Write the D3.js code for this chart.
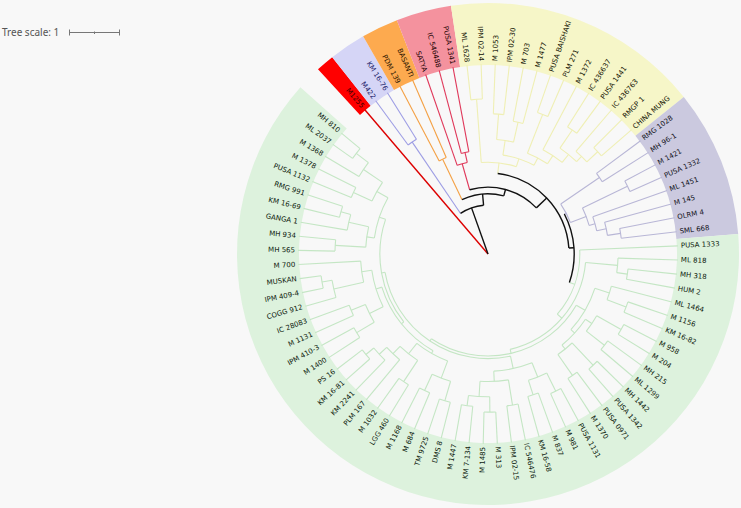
<!DOCTYPE html>
<html><head><meta charset="utf-8">
<script src="https://cdn.jsdelivr.net/npm/d3@7"></script>
<style>html,body{margin:0;padding:0;background:#f8f8f8;} svg{display:block}</style>
</head><body><svg id="c" width="741" height="508"></svg>
<script>
// ---------- data ----------
const leafDepth = 3.725;          // distance root -> leaves (tree units)
const startAngle = -40.5;         // angle of first leaf (deg, clockwise from north)
const spanAngle = 350;            // arc covered by the leaves
const scaleBarUnits = 1;

const cladeNames   = ["red","lavender","orange","pink","yellow","purple","green"];
const rangeColors  = ["#ff0000","#d5d5f6","#fdaa4f","#f4929e","#f6f6c8","#cbc9df","#ddf2dd"];
const branchColors = ["#dd0000","#9d9de4","#f4a043","#e0385a","#efefb4","#b8b6d6","#c4e6c4"];
const labelColors  = ["#3a0000","#1c1c6a","#2a1400","#1a0000","#151505","#101018","#0c200c"];

// backbone node depths: root, A, B, C, D, E
const backboneDepths = [0, 0.96, 1.18, 1.31, 1.59, 1.69];

const treeRed = "M1255";
const treeLavender = "(M422,KM 16-76):2.65";
const treeOrange = "(PDM 139,BASANTI):2.06";
const treePink = "(SATYA,(IC 546488,PUSA 1341):2.04):1.84";
const treeYellow = "((ML 1628,IPM 02-14):3.04,(((M 1053,IPM 02-30):2.75,(M 703,M 1477):2.65):2.25,((PUSA BAISHAKI,PLM 271):2.94,(M 1372,((IC 436637,PUSA 1441):2.94,(IC 436763,(RMGP 1,CHINA MUNG):2.94):2.65):2.51):2.31):2.12):1.96):1.80";
const treePurple = "((RMG 1028,MH 96-1):2.65,((M 1421,PUSA 1332):3.04,(ML 1451,(M 145,(OLRM 4,SML 668):2.63):2.37):2.18):2.06):1.73";

const greenG1 = "(ML 818,(MH 318,HUM 2):2.76):2.55";
const greenG2 = "(ML 1464,(M 1156,KM 16-82):2.9):2.5";
const greenG3 = "((M 958,M 204):3.0,(MH 215,ML 1299):2.9):2.45";
const greenG4 = "((MH 1442,PUSA 1342):3.0,(PUSA 0971,M 1370):2.9):2.4";
const greenG5 = "(((PUSA 1131,M 981):3.0,(M 837,KM 16-58):2.9):2.6,((IC 546476,IPM 02-15):3.0,((M 313,M 1485):3.1,(KM 7-134,M 1447):3.0):2.8):2.5):2.3";
const greenG6 = "(((DMS 8,TM 9725):3.0,(M 684,M 1168):2.95):2.6,((LGG 460,M 1032):3.0,(PLM 167,(KM 2241,(KM 16-81,PS 16):3.1):2.9):2.7):2.5):2.24";
const greenG7 = "(((M 1400,IPM 410-3):3.0,(M 1131,IC 28083):2.9):2.6,((COGG 912,(IPM 409-4,MUSKAN):3.3):3.1,M 700):2.5):2.3";
const greenG8 = "((MH 565,MH 934):3.0,(GANGA 1,(KM 16-69,RMG 991):3.0):2.8):2.4";
const greenG9 = "((PUSA 1132,M 1378):2.9,(M 1368,(ML 2037,MH 810):3.25):2.95):2.5";
const treeGreen = `(PUSA 1333,(${greenG1},((${greenG2},(${greenG3},${greenG4}):2.3):2.2,(${greenG5},((${greenG6},${greenG7}):2.18,(${greenG8},${greenG9}):2.25):2.12):2.05):2.0):1.92):1.80`;

const cladeTrees = [treeRed, treeLavender, treeOrange, treePink, treeYellow, treePurple, treeGreen];

// ---------- parse ----------
function parse(str) {
  let i = 0;
  function node() {
    if (str[i] === "(") {
      i++;
      const children = [node()];
      while (str[i] === ",") { i++; children.push(node()); }
      i++; // ')'
      let d = 0;
      if (str[i] === ":") { i++; let s = ""; while (i < str.length && /[0-9.]/.test(str[i])) s += str[i++]; d = +s; }
      return {children, depth: d};
    }
    let s = "";
    while (i < str.length && !",():".includes(str[i])) s += str[i++];
    return {name: s.trim(), depth: leafDepth};
  }
  return node();
}
function tag(n, c) { n.clade = c; (n.children || []).forEach(k => tag(k, c)); }
const clades = cladeTrees.map((t, k) => { const n = parse(t); tag(n, k); return n; });

// backbone (caterpillar)
let tail = {children: [clades[5], clades[6]], depth: backboneDepths[5], clade: -1};
for (let k = 4; k >= 0; k--) tail = {children: [clades[k], tail], depth: backboneDepths[k], clade: -1};
const root = tail;

// ---------- layout ----------
const leaves = [];
(function collect(n) { if (n.children) n.children.forEach(collect); else leaves.push(n); })(root);
const angleScale = d3.scaleLinear().domain([0, leaves.length - 1]).range([startAngle, startAngle + spanAngle]);
const step = spanAngle / (leaves.length - 1);
leaves.forEach((l, i) => l.angle = angleScale(i));
(function setAngle(n) {
  if (!n.children) return n.angle;
  n.children.forEach(setAngle);
  n.angle = (n.children[0].angle + n.children[n.children.length - 1].angle) / 2;
  return n.angle;
})(root);

const cx = 488, cy = 254;
const rLeaf = 190, ringInner = 189, ringOuter = 251, labelR = 193;
const r = d3.scaleLinear().domain([0, leafDepth]).range([0, rLeaf]);
const rad = a => a * Math.PI / 180;
const pt = (rr, a) => [cx + rr * Math.sin(rad(a)), cy - rr * Math.cos(rad(a))];

const svg = d3.select("#c");
svg.append("rect").attr("width", 741).attr("height", 508).attr("fill", "#f8f8f8");

// ---------- ranges ----------
const ringArc = d3.arc().innerRadius(ringInner).outerRadius(ringOuter);
const gRing = svg.append("g").attr("transform", `translate(${cx},${cy})`);
clades.forEach((c, k) => {
  const ls = leaves.filter(l => l.clade === k);
  const a0 = d3.min(ls, l => l.angle) - step / 2, a1 = d3.max(ls, l => l.angle) + step / 2;
  gRing.append("path").attr("d", ringArc({startAngle: rad(a0), endAngle: rad(a1)})).attr("fill", rangeColors[k]);
});

// ---------- branches ----------
const segs = [];
(function walk(n, parent) {
  const col = n.clade < 0 ? "#111" : branchColors[n.clade];
  if (parent) {
    const p0 = pt(r(parent.depth), n.angle), p1 = pt(r(n.depth), n.angle);
    segs.push({d: `M${p0[0]},${p0[1]}L${p1[0]},${p1[1]}`, col, clade: n.clade});
  }
  if (n.children) {
    if (n.depth > 0) {
      const a0 = n.children[0].angle, a1 = n.children[n.children.length - 1].angle;
      const p = d3.path();
      p.arc(cx, cy, r(n.depth), rad(a0 - 90), rad(a1 - 90), false);
      segs.push({d: p.toString(), col, clade: n.clade});
    }
    n.children.forEach(k => walk(k, n));
  }
})(root, null);
const order = c => c === -1 ? 10 : (c === 6 ? 0 : c === 4 ? 1 : 2);
segs.sort((a, b) => order(a.clade) - order(b.clade));
svg.append("g").selectAll("path").data(segs).join("path")
  .attr("d", d => d.d).attr("fill", "none").attr("stroke", d => d.col)
  .attr("stroke-width", d => (d.clade === -1 || d.clade === 0) ? 1.4 : 1.1);

// ---------- labels ----------
const gLab = svg.append("g").attr("transform", `translate(${cx},${cy})`);
leaves.forEach(l => {
  let a = ((l.angle % 360) + 360) % 360;
  const flip = a > 180;
  gLab.append("text")
    .attr("transform", `rotate(${l.angle - 90}) translate(${labelR},0)` + (flip ? " rotate(180)" : ""))
    .attr("text-anchor", flip ? "end" : "start")
    .attr("dominant-baseline", "central")
    .attr("font-family", "DejaVu Sans, Verdana, sans-serif")
    .attr("font-size", 7)
    .attr("fill", labelColors[l.clade])
    .text(l.name);
});

// ---------- tree scale ----------
const bx = 69, by = 32.5, bw = r(scaleBarUnits);
svg.append("text").attr("x", 2).attr("y", 36).attr("font-family", "Noto Sans, sans-serif")
  .attr("font-size", 10).attr("fill", "#555").text("Tree scale: " + scaleBarUnits);
const gb = svg.append("g").attr("stroke", "#777").attr("stroke-width", 1);
gb.append("line").attr("x1", bx).attr("x2", bx + bw).attr("y1", by).attr("y2", by);
gb.append("line").attr("x1", bx + 0.5).attr("x2", bx + 0.5).attr("y1", by - 3).attr("y2", by + 3);
gb.append("line").attr("x1", bx + bw - 0.5).attr("x2", bx + bw - 0.5).attr("y1", by - 3).attr("y2", by + 3);
gb.append("line").attr("x1", bx + bw / 2).attr("x2", bx + bw / 2).attr("y1", by - 1).attr("y2", by + 1.5);
</script></body></html>
